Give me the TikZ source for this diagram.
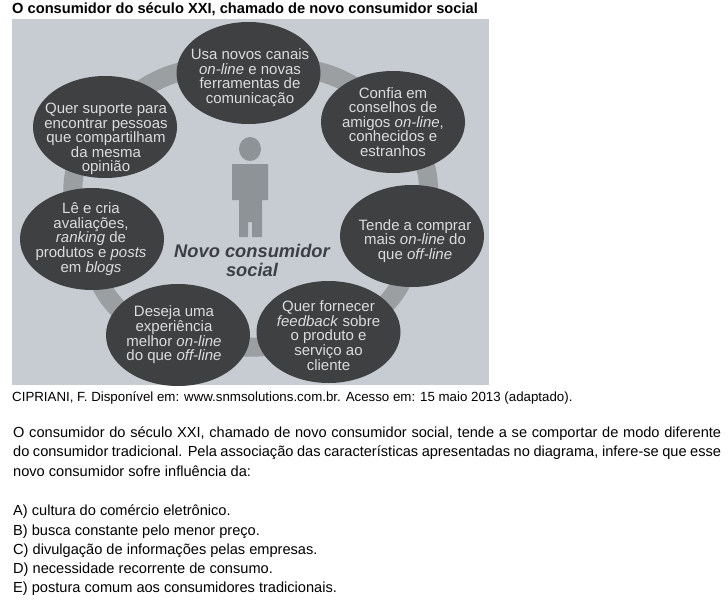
\documentclass[tikz,border=0pt]{standalone}
\usepackage{fontspec}
\setmainfont{Liberation Sans}
\usetikzlibrary{backgrounds,shapes.geometric}
\definecolor{panel}{HTML}{C6CCD1}
\definecolor{oval}{HTML}{3E4042}
\definecolor{ring}{HTML}{9C9FA1}
\definecolor{ovaltext}{HTML}{DADDDD}
\definecolor{figure}{HTML}{8E9397}
\definecolor{caption}{HTML}{3C4044}
\tikzset{
  x=1pt,y=-1pt,
  oval/.style={ellipse,fill=oval,minimum width=144pt,minimum height=102pt,inner sep=0pt},
  ovaltxt/.style={text=ovaltext,inner sep=0pt,align=center,font=\fontsize{15}{14.6}\selectfont},
  band/.style={draw=ring,line width=19pt},
  line/.style={anchor=base west,inner sep=0pt,text=black},
  body/.style={line,font=\fontsize{14.6}{16}\selectfont},
}
\begin{document}
\begin{tikzpicture}
\useasboundingbox (0,0) rectangle (728,600);
\node[line,font=\fontsize{14.65}{16}\selectfont\bfseries] (title) at (12,13.5) {O consumidor do século XXI, chamado de novo consumidor social};
\node[oval,label={[ovaltxt,xshift=1.5pt,yshift=-4.5pt]center:{Usa novos canais\\\textit{on-line} e novas\\ferramentas de\\comunicação}}] (top) at (248.5,73) {};
\node[oval,label={[ovaltxt]center:{Confia em\\conselhos de\\amigos \textit{on-line},\\conhecidos e\\estranhos}}] (rt) at (393,122) {};
\node[oval,label={[ovaltxt,xshift=3pt,yshift=-5pt]center:{Tende a comprar\\mais \textit{on-line} do\\que \textit{off-line}}}] (rm) at (412,236) {};
\node[oval,label={[ovaltxt,yshift=-3.5pt]center:{Quer fornecer\\\textit{feedback} sobre\\o produto e\\serviço ao\\cliente}}] (br) at (328.5,332) {};
\node[oval,label={[ovaltxt,xshift=-4pt]center:{Deseja uma\\experiência\\melhor \textit{on-line}\\do que \textit{off-line}}}] (bl) at (178,335) {};
\node[oval,label={[ovaltxt,xshift=-1pt]center:{Lê e cria\\avaliações,\\\textit{ranking} de\\produtos e \textit{posts}\\em \textit{blogs}}}] (lm) at (92,239) {};
\node[oval,label={[ovaltxt,xshift=1pt,yshift=-12pt]center:{Quer suporte para\\encontrar pessoas\\que compartilham\\da mesma\\opinião}}] (lt) at (105,127) {};
\begin{pgfonlayer}{background}
\fill[white] (0,0) rectangle (728,600);
\fill[panel] (12,19) rectangle (489,385);
\draw[band] (top.center) to[bend left=33] (rt.center);
\draw[band] (rt.center) to[bend left=48] (rm.center);
\draw[band] (rm.center) to[bend left=42] (br.center);
\draw[band] (br.center) to[bend left=18] (bl.center);
\draw[band] (bl.center) to[bend left=46] (lm.center);
\draw[band] (lm.center) to[bend left=50] (lt.center);
\draw[band] (lt.center) to[bend left=35] (top.center);
\end{pgfonlayer}
\fill[figure] (250,149) ellipse (11 and 12);
\fill[figure] (232,164) -- (268,164) -- (268,200) -- (262,200) -- (262,237) -- (252,237) -- (252,222) -- (248,222) -- (248,237) -- (239,237) -- (239,200) -- (232,200) -- cycle;
\node[inner sep=0pt,align=center,text=caption,font=\fontsize{18.3}{19.5}\selectfont\bfseries\itshape] (cap) at (252,260.5) {Novo consumidor\\social};
\node[line,font=\fontsize{13.3}{14}\selectfont] (src) at (12,401) {CIPRIANI, F. Disponível em: www.snmsolutions.com.br. Acesso em: 15 maio 2013 (adaptado).};
\node[body] (p1) at (13,437) {\makebox[708pt][s]{O consumidor do século XXI, chamado de novo consumidor social, tende a se comportar de modo diferente}};
\node[body] (p2) at (13,456) {\makebox[708pt][s]{do consumidor tradicional. Pela associação das características apresentadas no diagrama, infere-se que esse}};
\node[body] (p3) at (13,476) {novo consumidor sofre influência da:};
\node[body] (a) at (13,515) {A) cultura do comércio eletrônico.};
\node[body] (b) at (13,535) {B) busca constante pelo menor preço.};
\node[body] (c) at (13,554) {C) divulgação de informações pelas empresas.};
\node[body] (d) at (13,573) {D) necessidade recorrente de consumo.};
\node[body] (e) at (13,592) {E) postura comum aos consumidores tradicionais.};
\end{tikzpicture}
\end{document}
